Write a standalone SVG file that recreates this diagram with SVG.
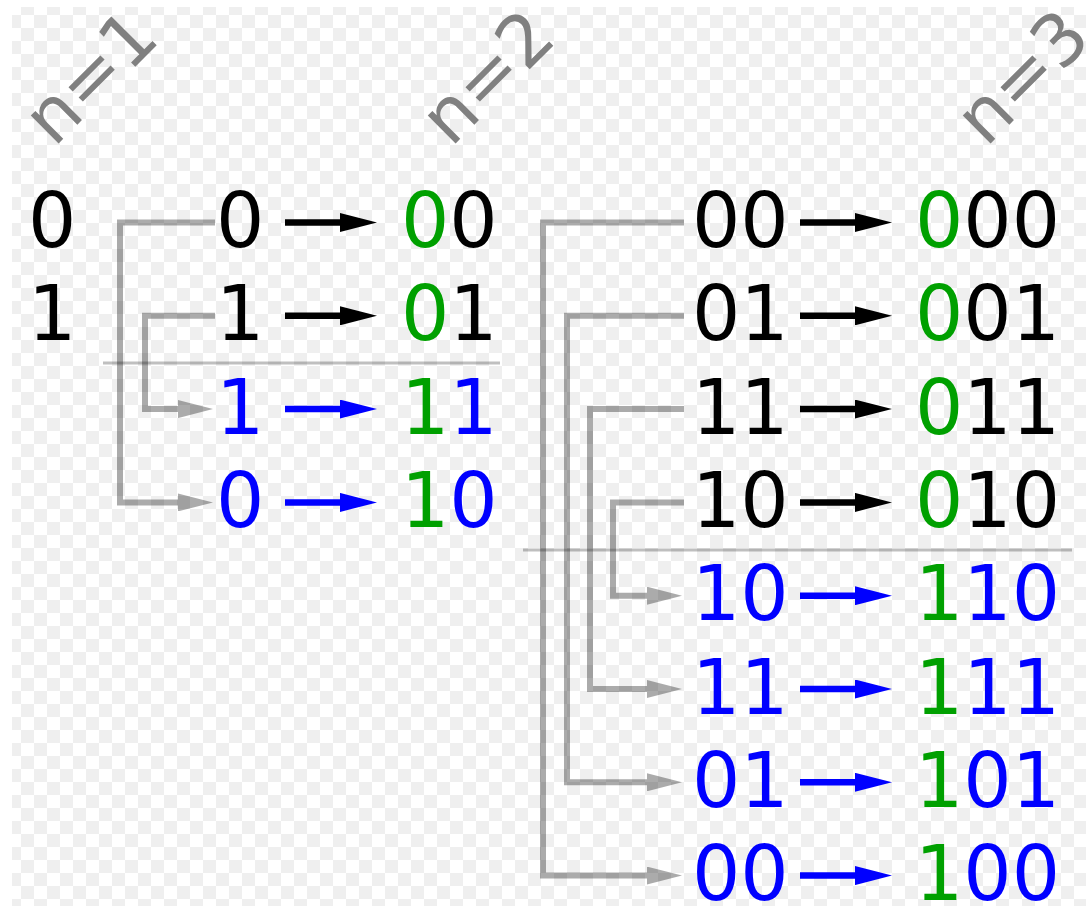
<svg xmlns="http://www.w3.org/2000/svg" width="1086" height="906" viewBox="0 0 1086 906">
  <style>
    .d { font-family: "DejaVu Sans", "Liberation Sans", sans-serif; font-size: 76px; }
    .lbl { font-family: "DejaVu Sans", "Liberation Sans", sans-serif; font-size: 72px; fill: #808080; }
    .k { fill: #000000; }
    .b { fill: #0000ff; }
    .g { fill: #00a000; }
    .ar-k { stroke: #000000; stroke-width: 6.5; fill: none; marker-end: url(#head-k); }
    .ar-b { stroke: #0000ff; stroke-width: 6.5; fill: none; marker-end: url(#head-b); }
    .link { stroke: #000000; stroke-opacity: 0.33; stroke-width: 6; fill: none; marker-end: url(#head-g); }
    .sep { stroke: #000000; stroke-opacity: 0.25; stroke-width: 3; fill: none; }
  </style>
  <defs>
    <pattern id="checker" patternUnits="userSpaceOnUse" x="8" y="2" width="26" height="26">
      <rect x="13" y="0" width="13" height="13" fill="#efefef"/>
      <rect x="0" y="13" width="13" height="13" fill="#efefef"/>
    </pattern>
    <marker id="head-k" markerUnits="userSpaceOnUse" viewBox="0 0 37 19" refX="0" refY="9.5" markerWidth="37" markerHeight="19" orient="auto">
      <path d="M0,0 L37,9.5 L0,19 Z" fill="#000000"/>
    </marker>
    <marker id="head-b" markerUnits="userSpaceOnUse" viewBox="0 0 37 19" refX="0" refY="9.5" markerWidth="37" markerHeight="19" orient="auto">
      <path d="M0,0 L37,9.5 L0,19 Z" fill="#0000ff"/>
    </marker>
    <marker id="head-g" markerUnits="userSpaceOnUse" viewBox="0 0 35 18" refX="0" refY="9" markerWidth="35" markerHeight="18" orient="auto">
      <path d="M0,0 L35,9 L0,18 Z" fill="#000000" fill-opacity="0.33"/>
    </marker>
  </defs>

  <!-- backdrop -->
  <rect x="0" y="0" width="1086" height="906" fill="#ffffff"/>
  <rect x="12" y="7" width="1074" height="899" fill="url(#checker)"/>

  <!-- column headings -->
  <g id="label-n1"><text class="lbl" x="54" y="148" transform="rotate(-45 54 148)">n=1</text></g>
  <g id="label-n2"><text class="lbl" x="451" y="148" transform="rotate(-45 451 148)">n=2</text></g>
  <g id="label-n3"><text class="lbl" x="986" y="148" transform="rotate(-45 986 148)">n=3</text></g>

  <!-- reflection lines -->
  <g id="separators">
    <line class="sep" x1="103" y1="363" x2="500" y2="363"/>
    <line class="sep" x1="523" y1="550" x2="1072" y2="550"/>
  </g>

  <!-- connectors: reflected copies and prefix arrows -->
  <g id="connectors">
    <path class="link" d="M215,222.5 H120 V502.4 H178"/>
    <path class="link" d="M215,315.8 H145 V409.1 H178"/>

    <path class="link" d="M684,222.5 H543 V875.6 H647"/>
    <path class="link" d="M684,315.8 H567 V782.3 H647"/>
    <path class="link" d="M684,409.1 H590 V689 H647"/>
    <path class="link" d="M684,502.4 H613 V595.7 H647"/>

    <path class="ar-k" d="M285,222.5 H340"/>
    <path class="ar-k" d="M285,315.8 H340"/>
    <path class="ar-b" d="M285,409.1 H340"/>
    <path class="ar-b" d="M285,502.4 H340"/>

    <path class="ar-k" d="M800,222.5 H855"/>
    <path class="ar-k" d="M800,315.8 H855"/>
    <path class="ar-k" d="M800,409.1 H855"/>
    <path class="ar-k" d="M800,502.4 H855"/>
    <path class="ar-b" d="M800,595.7 H855"/>
    <path class="ar-b" d="M800,689 H855"/>
    <path class="ar-b" d="M800,782.3 H855"/>
    <path class="ar-b" d="M800,875.6 H855"/>
  </g>

  <!-- n = 1 -->
  <g id="n1-0"><text class="d k" x="28" y="247">0</text></g>
  <g id="n1-1"><text class="d k" x="28" y="340.3">1</text></g>

  <!-- n = 2 : inputs -->
  <g id="n2-in-0"><text class="d k" x="216" y="247">0</text></g>
  <g id="n2-in-1"><text class="d k" x="216" y="340.3">1</text></g>
  <g id="n2-in-2"><text class="d b" x="216" y="433.6">1</text></g>
  <g id="n2-in-3"><text class="d b" x="216" y="526.9">0</text></g>

  <!-- n = 2 : outputs -->
  <g id="n2-out-0"><text class="d" x="401" y="247"><tspan class="g">0</tspan><tspan class="k">0</tspan></text></g>
  <g id="n2-out-1"><text class="d" x="401" y="340.3"><tspan class="g">0</tspan><tspan class="k">1</tspan></text></g>
  <g id="n2-out-2"><text class="d" x="401" y="433.6"><tspan class="g">1</tspan><tspan class="b">1</tspan></text></g>
  <g id="n2-out-3"><text class="d" x="401" y="526.9"><tspan class="g">1</tspan><tspan class="b">0</tspan></text></g>

  <!-- n = 3 : inputs -->
  <g id="n3-in-0"><text class="d k" x="692" y="247">00</text></g>
  <g id="n3-in-1"><text class="d k" x="692" y="340.3">01</text></g>
  <g id="n3-in-2"><text class="d k" x="692" y="433.6">11</text></g>
  <g id="n3-in-3"><text class="d k" x="692" y="526.9">10</text></g>
  <g id="n3-in-4"><text class="d b" x="692" y="620.2">10</text></g>
  <g id="n3-in-5"><text class="d b" x="692" y="713.5">11</text></g>
  <g id="n3-in-6"><text class="d b" x="692" y="806.8">01</text></g>
  <g id="n3-in-7"><text class="d b" x="692" y="900.1">00</text></g>

  <!-- n = 3 : outputs -->
  <g id="n3-out-0"><text class="d" x="915" y="247"><tspan class="g">0</tspan><tspan class="k">00</tspan></text></g>
  <g id="n3-out-1"><text class="d" x="915" y="340.3"><tspan class="g">0</tspan><tspan class="k">01</tspan></text></g>
  <g id="n3-out-2"><text class="d" x="915" y="433.6"><tspan class="g">0</tspan><tspan class="k">11</tspan></text></g>
  <g id="n3-out-3"><text class="d" x="915" y="526.9"><tspan class="g">0</tspan><tspan class="k">10</tspan></text></g>
  <g id="n3-out-4"><text class="d" x="915" y="620.2"><tspan class="g">1</tspan><tspan class="b">10</tspan></text></g>
  <g id="n3-out-5"><text class="d" x="915" y="713.5"><tspan class="g">1</tspan><tspan class="b">11</tspan></text></g>
  <g id="n3-out-6"><text class="d" x="915" y="806.8"><tspan class="g">1</tspan><tspan class="b">01</tspan></text></g>
  <g id="n3-out-7"><text class="d" x="915" y="900.1"><tspan class="g">1</tspan><tspan class="b">00</tspan></text></g>
</svg>
